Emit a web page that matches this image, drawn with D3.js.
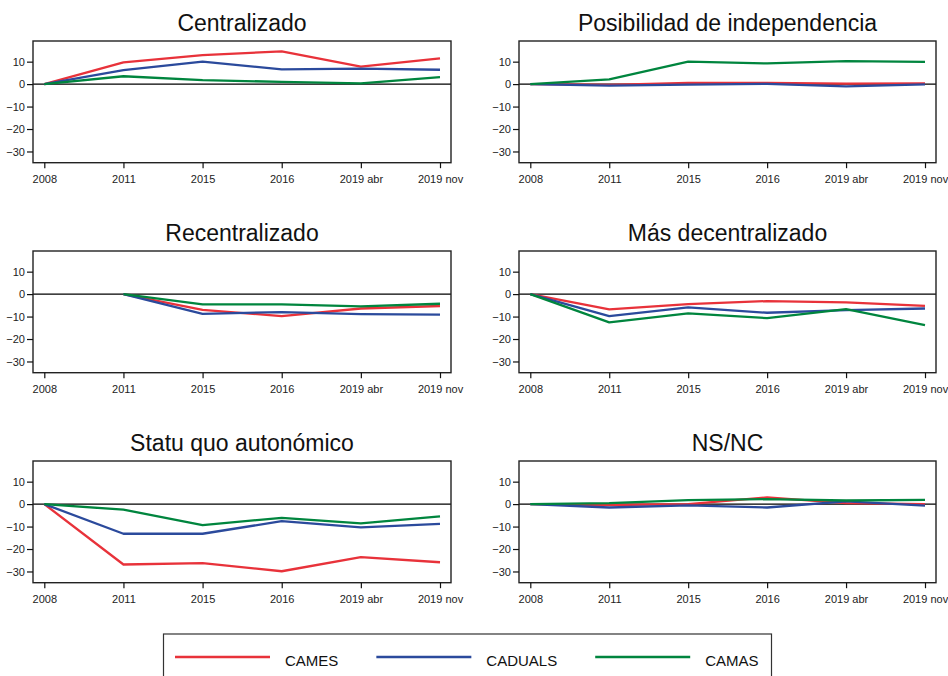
<!DOCTYPE html>
<html>
<head>
<meta charset="utf-8">
<script src="https://cdn.jsdelivr.net/npm/d3@7"></script>
<style>
  html, body { margin: 0; padding: 0; background: #fff; }
  svg { display: block; font-family: "Liberation Sans", Arial, sans-serif; }
</style>
</head>
<body>
<svg id="chart" width="948" height="676"></svg>
<script>
// Survey waves shown on every x axis
const periods = ["2008", "2011", "2015", "2016", "2019 abr", "2019 nov"];
const seriesNames = ["CAMES", "CADUALS", "CAMAS"];
const seriesColors = ["#e8323a", "#2b4a9c", "#00853e"];
const yTicks = [-30, -20, -10, 0, 10];
const panelTitles = [
  "Centralizado", "Posibilidad de independencia",
  "Recentralizado", "Más decentralizado",
  "Statu quo autonómico", "NS/NC"
];

// Change in percentage points relative to the first wave
const centralizadoCAMES   = [0, 9.7, 12.9, 14.6, 7.8, 11.5];
const centralizadoCADUALS = [0, 6.2, 10.0, 6.6, 6.9, 6.4];
const centralizadoCAMAS   = [0, 3.5, 1.8, 1.0, 0.3, 3.1];

const independenciaCAMES   = [0, -0.3, 0.5, 0.5, 0.2, 0.3];
const independenciaCADUALS = [0, -0.7, -0.2, 0.1, -1.0, -0.1];
const independenciaCAMAS   = [0, 2.1, 10.0, 9.2, 10.2, 9.9];

const recentralizadoCAMES   = [null, 0, -7.0, -9.8, -6.4, -5.3];
const recentralizadoCADUALS = [null, 0, -8.8, -8.0, -8.9, -9.1];
const recentralizadoCAMAS   = [null, 0, -4.6, -4.6, -5.5, -4.3];

const decentralizadoCAMES   = [0, -6.8, -4.5, -3.1, -3.7, -5.2];
const decentralizadoCADUALS = [0, -9.8, -5.9, -8.3, -7.1, -6.4];
const decentralizadoCAMAS   = [0, -12.6, -8.6, -10.7, -6.7, -13.8];

const statuQuoCAMES   = [0, -26.9, -26.3, -29.9, -23.6, -25.9];
const statuQuoCADUALS = [0, -13.2, -13.2, -7.6, -10.4, -8.8];
const statuQuoCAMAS   = [0, -2.5, -9.4, -6.1, -8.6, -5.5];

const nsncCAMES   = [0, -0.4, 0.0, 3.0, 0.4, 0.0];
const nsncCADUALS = [0, -1.5, -0.6, -1.5, 1.2, -0.7];
const nsncCAMAS   = [0, 0.4, 1.8, 2.2, 1.6, 1.9];

const panelSeries = [
  [centralizadoCAMES, centralizadoCADUALS, centralizadoCAMAS],
  [independenciaCAMES, independenciaCADUALS, independenciaCAMAS],
  [recentralizadoCAMES, recentralizadoCADUALS, recentralizadoCAMAS],
  [decentralizadoCAMES, decentralizadoCADUALS, decentralizadoCAMAS],
  [statuQuoCAMES, statuQuoCADUALS, statuQuoCAMAS],
  [nsncCAMES, nsncCADUALS, nsncCAMAS]
];

const svg = d3.select("#chart");

// Panel grid geometry
const colX = [33, 519];
const colW = [418, 417];
const rowY = [41, 251, 461];
const panelH = 121.7;
const yDomain = [-35, 19.2];

panelTitles.forEach((title, i) => {
  const col = i % 2, row = Math.floor(i / 2);
  const x0 = colX[col], w = colW[col], y0 = rowY[row];

  const g = svg.append("g").attr("transform", `translate(${x0},${y0})`);

  const x = d3.scalePoint().domain(periods).range([11.3, w - 11]);
  const y = d3.scaleLinear().domain(yDomain).range([panelH, 0]);

  // Title
  g.append("text")
    .attr("x", w / 2)
    .attr("y", -10.3)
    .attr("text-anchor", "middle")
    .attr("font-size", 23)
    .attr("fill", "#111")
    .text(title);

  // Zero reference line
  g.append("line")
    .attr("x1", 0).attr("x2", w)
    .attr("y1", y(0)).attr("y2", y(0))
    .attr("stroke", "#000")
    .attr("stroke-width", 1.2);

  // Series
  const line = d3.line()
    .defined(d => d.v !== null)
    .x(d => x(d.p))
    .y(d => y(d.v));

  panelSeries[i].forEach((vals, s) => {
    const pts = periods.map((p, k) => ({ p, v: vals[k] }));
    g.append("path")
      .datum(pts)
      .attr("d", line)
      .attr("fill", "none")
      .attr("stroke", seriesColors[s])
      .attr("stroke-width", 2.3)
      .attr("stroke-linejoin", "round");
  });

  // Frame
  g.append("rect")
    .attr("x", 0).attr("y", 0)
    .attr("width", w).attr("height", panelH)
    .attr("fill", "none")
    .attr("stroke", "#222")
    .attr("stroke-width", 1.4);

  // Axes
  const yAxis = d3.axisLeft(y).tickValues(yTicks).tickSize(6).tickPadding(2).tickFormat(d3.format("d"));
  const ya = g.append("g").call(yAxis);
  ya.select(".domain").remove();
  ya.selectAll("line").attr("stroke", "#111").attr("stroke-width", 1.2);
  ya.selectAll("text").attr("font-size", 11).attr("fill", "#222")
    .attr("font-family", "Liberation Sans, Arial, sans-serif");

  const xAxis = d3.axisBottom(x).tickSize(5.5).tickPadding(7);
  const xa = g.append("g").attr("transform", `translate(0,${panelH})`).call(xAxis);
  xa.select(".domain").remove();
  xa.selectAll("line").attr("stroke", "#111").attr("stroke-width", 1.2);
  xa.selectAll("text").attr("font-size", 11).attr("fill", "#222")
    .attr("font-family", "Liberation Sans, Arial, sans-serif");
});

// Legend
const lg = svg.append("g");
lg.append("rect")
  .attr("x", 163.5).attr("y", 634)
  .attr("width", 608).attr("height", 60)
  .attr("fill", "none")
  .attr("stroke", "#333")
  .attr("stroke-width", 1.2);

let lx = 175;
seriesNames.forEach((name, s) => {
  lg.append("line")
    .attr("x1", lx).attr("x2", lx + 95)
    .attr("y1", 657).attr("y2", 657)
    .attr("stroke", seriesColors[s])
    .attr("stroke-width", 2.5);
  const t = lg.append("text")
    .attr("x", lx + 110)
    .attr("y", 665.5)
    .attr("font-size", 15)
    .attr("fill", "#111")
    .text(name);
  lx = lx + 110 + t.node().getComputedTextLength() + 38;
});
</script>
</body>
</html>
